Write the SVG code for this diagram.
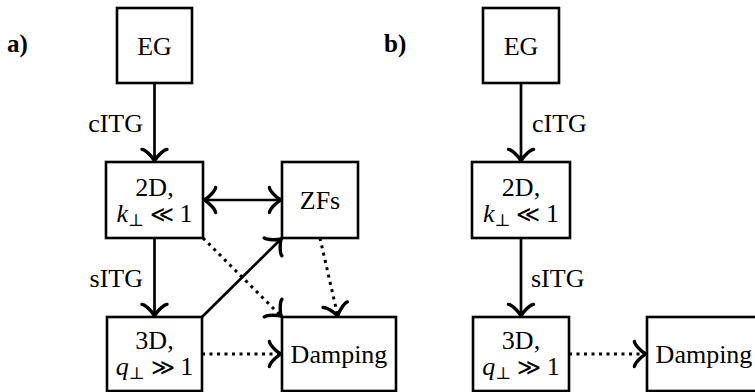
<svg xmlns="http://www.w3.org/2000/svg" width="755" height="392" viewBox="0 0 755 392">
  <style>
    .box { fill: #ffffff; stroke: #000000; stroke-width: 2.6; }
    .txt { font-family: "Liberation Serif", "Tinos", "Times New Roman", "DejaVu Serif", "Noto Serif", serif; font-size: 26px; fill: #000000; text-anchor: middle; }
    .lbl { font-family: "Liberation Serif", "Tinos", "Times New Roman", "DejaVu Serif", "Noto Serif", serif; font-size: 26px; fill: #000000; }
    .panel { font-family: "Liberation Serif", "Tinos", "Times New Roman", "DejaVu Serif", "Noto Serif", serif; font-size: 25px; font-weight: bold; fill: #000000; }
    .it { font-style: italic; }
    .rel { font-size: 23px; }
    .edge { fill: none; stroke: #000000; stroke-width: 2.7; }
    .solid { marker-end: url(#to); }
    .dotted { stroke-width: 3; stroke-dasharray: 3 4.5; marker-end: url(#to); }
    .both { marker-start: url(#to); marker-end: url(#to); }
  </style>
  <defs>
    <!-- curved "to" style arrow tip -->
    <marker id="to" markerUnits="userSpaceOnUse" orient="auto-start-reverse" refX="2.5" refY="0" markerWidth="30" markerHeight="30" viewBox="-10 -12 16 24" overflow="visible">
      <path d="M-7.6,-10 C-6.9,-6.2 0,-0.6 1.8,0 C0,0.6 -6.9,6.2 -7.6,10" fill="none" stroke="#000000" stroke-width="2.7" stroke-linecap="round" stroke-dasharray="none"/>
    </marker>
  </defs>

  <!-- panel labels -->
  <text class="panel" x="7" y="52">a)</text>
  <text class="panel" x="384" y="52">b)</text>

  <!-- connectors -->
  <g id="connectors">
    <path class="edge solid" d="M154.5,83 L154.5,162"/>
    <path class="edge solid" d="M154.5,238 L154.5,317"/>
    <path class="edge both" d="M203,200 L282,200"/>
    <path class="edge solid" d="M202,317 L282,238"/>
    <path class="edge dotted" d="M203,238 L282,317"/>
    <path class="edge dotted" d="M320,238 L338,317"/>
    <path class="edge dotted" d="M202,354 L282,354"/>
    <path class="edge solid" d="M521,83 L521,162"/>
    <path class="edge solid" d="M521,238 L521,317"/>
    <path class="edge dotted" d="M569,354 L647,354"/>
    <text class="lbl" x="143" y="132" text-anchor="end">cITG</text>
    <text class="lbl" x="143" y="287" text-anchor="end">sITG</text>
    <text class="lbl" x="532" y="132">cITG</text>
    <text class="lbl" x="531" y="287">sITG</text>
  </g>

  <!-- panel a nodes -->
  <g id="a-eg">
    <rect class="box" x="117" y="8" width="75" height="75"/>
    <text class="txt" x="154.5" y="54.5">EG</text>
  </g>
  <g id="a-2d">
    <rect class="box" x="106" y="162" width="97" height="76"/>
    <text class="txt" x="154.5" y="196">2D,</text>
    <text class="txt" x="154.5" y="222"><tspan class="it">k</tspan><tspan font-size="17" dy="4">⊥</tspan><tspan class="rel" dy="-4"> ≪ </tspan><tspan>1</tspan></text>
  </g>
  <g id="a-zfs">
    <rect class="box" x="282" y="162" width="76" height="76"/>
    <text class="txt" x="320" y="209">ZFs</text>
  </g>
  <g id="a-3d">
    <rect class="box" x="107" y="317" width="95" height="74"/>
    <text class="txt" x="154.5" y="349">3D,</text>
    <text class="txt" x="154.5" y="375"><tspan class="it">q</tspan><tspan font-size="17" dy="4">⊥</tspan><tspan class="rel" dy="-4"> ≫ </tspan><tspan>1</tspan></text>
  </g>
  <g id="a-damping">
    <rect class="box" x="282" y="317" width="114" height="74"/>
    <text class="txt" x="339" y="363">Damping</text>
  </g>

  <!-- panel b nodes -->
  <g id="b-eg">
    <rect class="box" x="483" y="8" width="76" height="75"/>
    <text class="txt" x="521" y="54.5">EG</text>
  </g>
  <g id="b-2d">
    <rect class="box" x="472" y="162" width="98" height="76"/>
    <text class="txt" x="521" y="196">2D,</text>
    <text class="txt" x="521" y="222"><tspan class="it">k</tspan><tspan font-size="17" dy="4">⊥</tspan><tspan class="rel" dy="-4"> ≪ </tspan><tspan>1</tspan></text>
  </g>
  <g id="b-3d">
    <rect class="box" x="473" y="317" width="96" height="74"/>
    <text class="txt" x="521" y="349">3D,</text>
    <text class="txt" x="521" y="375"><tspan class="it">q</tspan><tspan font-size="17" dy="4">⊥</tspan><tspan class="rel" dy="-4"> ≫ </tspan><tspan>1</tspan></text>
  </g>
  <g id="b-damping">
    <rect class="box" x="647" y="317" width="114" height="74"/>
    <text class="txt" x="704" y="363">Damping</text>
  </g>
</svg>
